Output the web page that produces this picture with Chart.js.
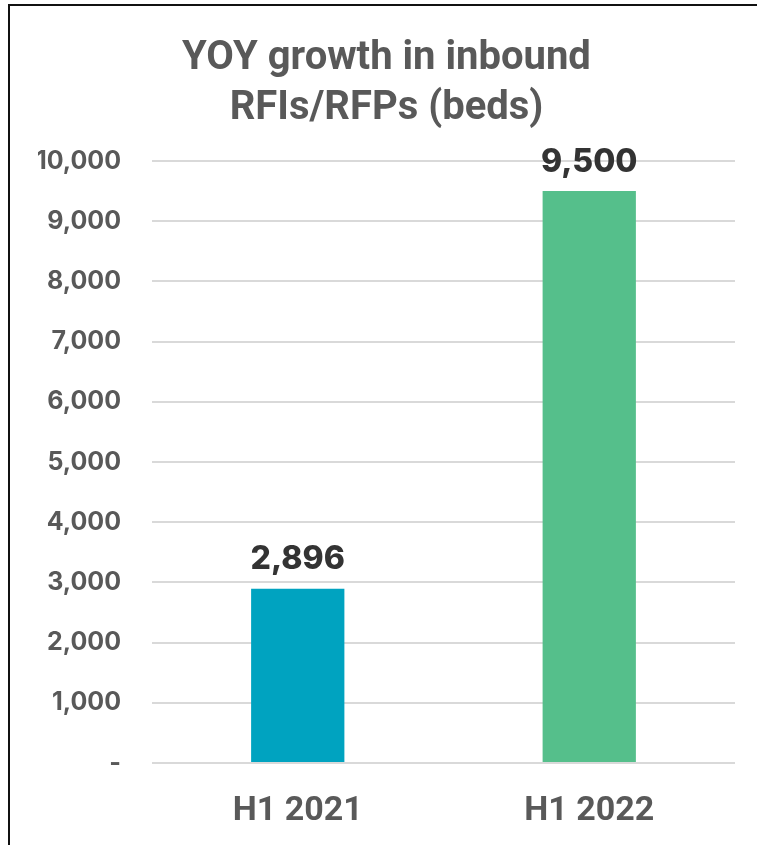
<!DOCTYPE html>
<html>
<head>
<meta charset="utf-8">
<script src="https://cdn.jsdelivr.net/npm/chart.js@4"></script>
<style>
  body { margin: 0; background: #fff; }
  .wrap { position: relative; width: 757px; height: 845px; overflow: hidden; }
  .frame { position: absolute; left: 8px; top: 4px; width: 900px; height: 900px;
           border-top: 2px solid #111; border-left: 2px solid #111; }
  canvas { position: absolute; left: 0; top: 0; }
</style>
</head>
<body>
<div class="wrap">
  <div class="frame"></div>
  <canvas id="myChart" width="757" height="867"></canvas>
</div>
<script>
const labels = ['H1 2021', 'H1 2022'];
const beds = [2896, 9500];
const barColors = ['#00A3C0', '#55BF8B'];
const yMax = 10000;
const yStep = 1000;

// little plugin to write the value above each bar
const valueLabels = {
    id: 'valueLabels',
    afterDatasetsDraw(chart) {
        const ctx = chart.ctx;
        const meta = chart.getDatasetMeta(0);
        ctx.save();
        ctx.font = "800 32px Inter, 'Open Sans', sans-serif";
        ctx.fillStyle = '#333333';
        ctx.textAlign = 'center';
        ctx.textBaseline = 'bottom';
        meta.data.forEach((bar, i) => {
            ctx.fillText(beds[i].toLocaleString('en-US'), bar.x, bar.y - 13);
        });
        ctx.restore();
    }
};

const data = {
    labels: labels,
    datasets: [{
        data: beds,
        backgroundColor: barColors,
        borderWidth: 0,
        barPercentage: 0.8,
        categoryPercentage: 0.4
    }]
};

const config = {
    type: 'bar',
    data: data,
    options: {
        responsive: false,
        animation: false,
        layout: { padding: { left: 38, right: 22, top: 34, bottom: 16 } },
        plugins: {
            legend: { display: false },
            tooltip: { enabled: false },
            title: {
                display: true,
                text: ['YOY growth in inbound', 'RFIs/RFPs (beds)'],
                color: '#595959',
                font: { family: "Roboto, sans-serif", size: 40, weight: '700', lineHeight: 1.25 },
                padding: { top: 0, bottom: 27 }
            }
        },
        scales: {
            x: {
                grid: { display: false },
                border: { display: false },
                ticks: {
                    color: '#595959',
                    padding: 23,
                    font: { family: "Roboto, sans-serif", size: 34, weight: '700', lineHeight: 1 }
                }
            },
            y: {
                min: 0,
                max: yMax,
                afterFit: (scale) => { scale.width = 114; },
                grid: { color: '#d9d9d9', lineWidth: 2, drawTicks: false },
                border: { display: false },
                ticks: {
                    stepSize: yStep,
                    color: '#595959',
                    padding: 31,
                    font: { family: "Inter, 'Open Sans', sans-serif", size: 25, weight: '700' },
                    callback: (v) => v === 0 ? '-' : v.toLocaleString('en-US')
                }
            }
        }
    },
    plugins: [valueLabels]
};

const myChart = new Chart(
    document.getElementById('myChart'),
    config
);
</script>
</body>
</html>
